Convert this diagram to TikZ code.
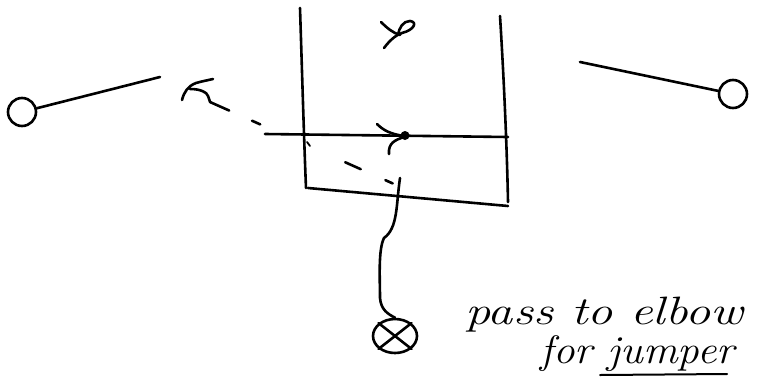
\documentclass[tikz,border=0pt]{standalone}
\usetikzlibrary{shapes.geometric}
\begin{document}
\begin{tikzpicture}[x=1pt,y=-1pt,line cap=round,line join=round]
\tikzset{
  ink/.style={line width=2.6pt,black},
  player/.style={ink,draw,circle,inner sep=0pt,minimum size=28pt},
  passline/.style={ink,dash pattern=on 21pt off 25pt on 9pt off 93pt on 17pt off 27pt on 8pt off 40pt},
  note/.style={anchor=base west,inner sep=0pt,font=\fontsize{36}{36}\selectfont\itshape}
}
\useasboundingbox (0,0) rectangle (759,386);
% players
\node[player] (o1) at (22,112) {};
\node[player] (o2) at (733,94) {};
\node[ink,draw,ellipse,inner sep=0pt,minimum width=44pt,minimum height=34pt] (ox) at (395,336) {};
\draw[ink] (ox.north west) -- (ox.south east);
\draw[ink] (ox.north east) -- (ox.south west);
% lines from players
\coordinate (l1) at (160,77);
\draw[ink] (o1) -- (l1);
\coordinate (r1) at (580,62);
\draw[ink] (r1) -- (o2);
% lane box
\draw[ink] (300,8) .. controls (302,70) and (304,140) .. (306,188);
\draw[ink] (308,188) -- (508,206);
\draw[ink] (500,16) .. controls (504,80) and (507,150) .. (508,202);
\draw[ink] (265,134) -- (508,137);
\draw[ink,line width=1.8pt] (307,142) -- (310,146);
% player mark at top
\draw[ink] (384,48) .. controls (390,40) and (396,35) .. (402,33)
  .. controls (414,30) and (418,22) .. (410,21)
  .. controls (403,21) and (399,28) .. (398,35);
\draw[ink] (381,22) .. controls (387,28) and (393,33) .. (400,35);
% cut arrow on the line
\draw[ink] (377,124) .. controls (383,130) and (390,134) .. (404,136);
\fill (405,135.5) circle (4.5pt);
\draw[ink] (404,137) .. controls (395,140) and (388,143) .. (389,154);
% dashed pass
\coordinate (ps) at (394,184);
\coordinate (pe) at (210,102);
\draw[passline] (pe) -- (ps);
\draw[ink] (182,100) .. controls (184,92) and (188,86) .. (196,83) .. controls (203,81) and (209,80) .. (213,79);
\draw[ink] (190,89) .. controls (200,89) and (207,92) .. (208,96) .. controls (209,99) and (210,101) .. (pe);
% wiggly line to the shooter
\coordinate (w1) at (400,178);
\draw[ink] (w1) .. controls (396,205) and (398,228) .. (384,238)
  .. controls (378,250) and (380,280) .. (380,298)
  .. controls (381,310) and (388,314) .. (ox.north);
% note
\node[note] (t1) at (465,324) {\scalebox{1.4}[1.1]{pass to elbow}};
\node[note] (t2) at (540,363) {\scalebox{1.2}[1.1]{for jumper}};
\draw[ink,line width=2pt] (600,375) -- (727,374);
\end{tikzpicture}
\end{document}
